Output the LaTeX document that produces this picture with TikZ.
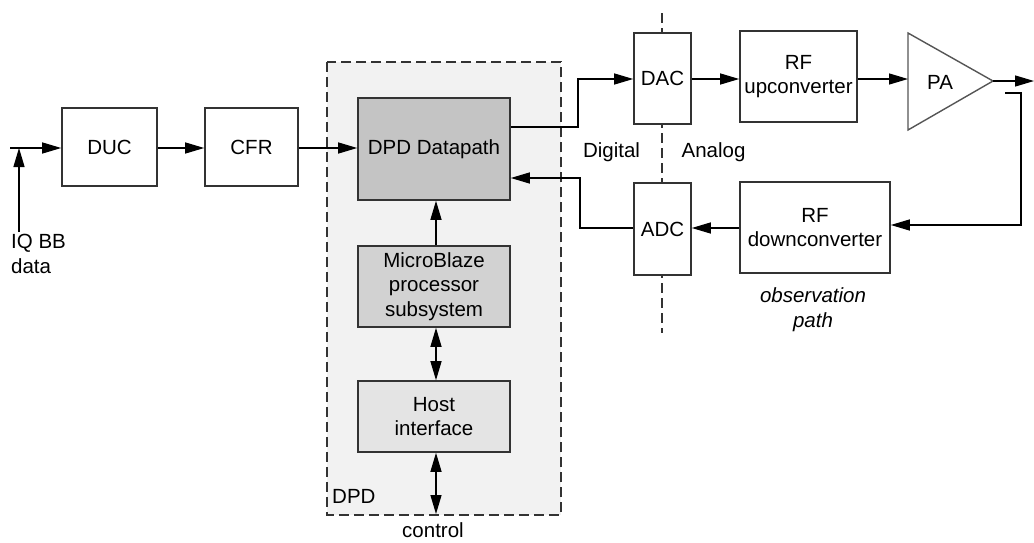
\documentclass[tikz,border=0pt]{standalone}
\usepackage{fontspec}
\setmainfont{Liberation Sans}
\usetikzlibrary{arrows.meta}
\definecolor{dpdbg}{HTML}{F2F2F2}
\definecolor{dpgray}{HTML}{C4C4C4}
\definecolor{mbgray}{HTML}{D2D2D2}
\definecolor{hostgray}{HTML}{E4E4E4}
\definecolor{pagray}{HTML}{555555}
\definecolor{edge}{HTML}{333333}
\tikzset{
  blk/.style={draw=edge, line width=1.6pt, fill=white, inner sep=0pt, align=center, font=\fontsize{20.5}{24.5}\selectfont},
  lbl/.style={inner sep=0pt, align=center, font=\fontsize{20.5}{24.5}\selectfont},
  tip/.tip={Triangle[length=19pt,width=11pt]},
  conn/.style={line width=1.3pt, -tip},
  bidir/.style={line width=1.3pt, tip-tip},
  dashline/.style={line width=1.4pt, draw=edge, dash pattern=on 10pt off 5pt},
}
\begin{document}
\begin{tikzpicture}[x=1pt,y=-1pt]
\useasboundingbox (0,0) rectangle (1034,542);
% DPD region
\draw[dashline, fill=dpdbg] (327,62) rectangle (561,515);
\node[lbl, anchor=west] (dpdlbl) at (332,496) {DPD};
% digital/analog boundary
\draw[dashline] (662,13) -- (662,333);
% blocks
\node[blk, minimum width=95pt, minimum height=78pt] (duc) at (109.5,147) {DUC};
\node[blk, minimum width=93pt, minimum height=78pt] (cfr) at (251.5,147) {CFR};
\node[blk, fill=dpgray, minimum width=152pt, minimum height=102pt] (dp) at (434,149) {DPD Datapath};
\node[blk, fill=mbgray, minimum width=152pt, minimum height=81pt] (mb) at (434,286.5) {MicroBlaze\\processor\\subsystem};
\node[blk, fill=hostgray, minimum width=152pt, minimum height=71pt] (host) at (434,416.5) {Host\\interface};
\node[blk, minimum width=57pt, minimum height=91pt] (dac) at (662.5,78.5) {DAC};
\node[blk, minimum width=57pt, minimum height=92pt] (adc) at (662.5,229) {ADC};
\node[blk, minimum width=117pt, minimum height=91pt] (rfup) at (798.5,76.5) {RF\\upconverter};
\node[blk, minimum width=150pt, minimum height=91pt] (rfdown) at (815,227.5) {RF\\downconverter};
% PA
\coordinate (pat) at (908,33);
\coordinate (pab) at (908,130);
\coordinate (paapex) at (993,81);
\draw[line width=1.4pt, draw=pagray, fill=white] (pat) -- (paapex) -- (pab) -- cycle;
\node[lbl] (pa) at (940,82) {PA};
% labels
\node[lbl, anchor=north west, align=left] (iq) at (11,234) {IQ BB\\data};
\node[lbl] (ctrl) at (433,530) {control};
\node[lbl] (digital) at (611.5,152) {Digital};
\node[lbl] (analog) at (713.5,152) {Analog};
\node[lbl, font=\fontsize{20.5}{24.5}\selectfont\itshape] (obs) at (813,309.5) {observation\\path};
% coordinates
\coordinate (in0) at (10,148);
\coordinate (iqj) at (19,148);
\coordinate (iqs) at (19,232);
\coordinate (ctrlend) at (436,514);
\coordinate (paout) at (1034,81);
\coordinate (fb0) at (1005,93);
\coordinate (fb1) at (1021,93);
\coordinate (fb2) at (1021,225);
% connectors
\draw[conn] (in0) -- (duc.west |- in0);
\draw[conn] (iqs) -- (iqj);
\draw[conn] (duc.east |- 0,148) -- (cfr.west |- 0,148);
\draw[conn] (cfr.east |- 0,148) -- (dp.west |- 0,148);
\draw[conn] (dp.east |- 0,127) -- (578,127) -- (578,79) -- (dac.west |- 0,79);
\draw[conn] (adc.west |- 0,228) -- (580,228) -- (580,178) -- (dp.east |- 0,178);
\draw[conn] (dac.east |- 0,79) -- (rfup.west |- 0,79);
\draw[conn] (rfup.east |- 0,79) -- (pat |- 0,79);
\draw[conn] (paapex) -- (paout);
\draw[conn] (fb0) -- (fb1) -- (fb2) -- (rfdown.east |- fb2);
\draw[conn] (rfdown.west |- 0,228) -- (adc.east |- 0,228);
\draw[conn] (mb.north -| 436,0) -- (dp.south -| 436,0);
\draw[bidir] (mb.south -| 436,0) -- (host.north -| 436,0);
\draw[bidir] (host.south -| 436,0) -- (ctrlend);
\end{tikzpicture}
\end{document}
